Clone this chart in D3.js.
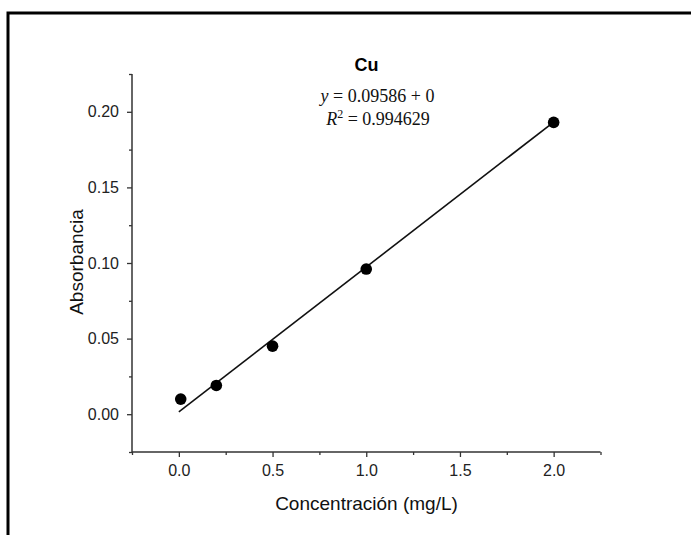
<!DOCTYPE html>
<html>
<head>
<meta charset="utf-8">
<script src="https://cdn.jsdelivr.net/npm/d3@7"></script>
<style>
html,body{margin:0;padding:0;background:#fff;}
svg{display:block;}
</style>
</head>
<body>
<svg id="chart" width="691" height="535"></svg>
<script>
const concentration = [0.01, 0.2, 0.5, 1.0, 2.0];
const absorbance = [0.010, 0.019, 0.045, 0.096, 0.193];
const fitX = [0.0, 2.0];
const fitY = [0.0015, 0.1932];
const xTicks = [0.0, 0.5, 1.0, 1.5, 2.0];
const xMinor = [-0.25, 0.25, 0.75, 1.25, 1.75, 2.25];
const yTicks = [0.00, 0.05, 0.10, 0.15, 0.20];
const yMinor = [-0.025, 0.025, 0.075, 0.125, 0.175, 0.225];
const titleText = "Cu";
const eqLine1 = "0.09586 + 0";
const eqLine2 = "0.994629";
const xLabel = "Concentración (mg/L)";
const yLabel = "Absorbancia";

const svg = d3.select("#chart");
const x = d3.scaleLinear().domain([-0.25, 2.25]).range([132, 600.5]);
const y = d3.scaleLinear().domain([-0.025, 0.225]).range([452, 74]);

// frame border (top + left)
svg.append("path").attr("d", "M8,535 L8,13 L691,13")
  .attr("fill", "none").attr("stroke", "#000").attr("stroke-width", 3);

const axisColor = "#333";
const font = "'Liberation Sans', Arial, sans-serif";

// x axis
const gx = svg.append("g").attr("transform", `translate(0,${y.range()[0]})`);
gx.call(d3.axisBottom(x).tickValues(xTicks).tickSize(5).tickPadding(8).tickFormat(d3.format(".1f")));
gx.append("g").call(d3.axisBottom(x).tickValues(xMinor).tickSize(3).tickFormat(""));
// y axis
const gy = svg.append("g").attr("transform", `translate(${x.range()[0]},0)`);
gy.call(d3.axisLeft(y).tickValues(yTicks).tickSize(5).tickPadding(8).tickFormat(d3.format(".2f")));
gy.append("g").call(d3.axisLeft(y).tickValues(yMinor).tickSize(3).tickFormat(""));

svg.selectAll(".domain").attr("stroke", axisColor).attr("stroke-width", 1.5);
svg.selectAll(".tick line").attr("stroke", axisColor).attr("stroke-width", 1.3);
svg.selectAll(".tick text").attr("fill", "#222").style("font-family", font).style("font-size", "16px");
gy.selectAll(".domain").attr("d", `M0,${y.range()[0]}V${y.range()[1]}`);
gx.selectAll(".domain").attr("d", `M${x.range()[0]},0H${x.range()[1]}`);
gx.selectAll("g > g").selectAll(".domain").remove();
gy.selectAll("g > g").selectAll(".domain").remove();

// fit line
svg.append("line")
  .attr("x1", x(fitX[0])).attr("y1", y(fitY[0]))
  .attr("x2", x(fitX[1])).attr("y2", y(fitY[1]))
  .attr("stroke", "#111").attr("stroke-width", 1.6);

// points
svg.selectAll("circle.pt").data(concentration).enter().append("circle")
  .attr("class", "pt")
  .attr("cx", d => x(d))
  .attr("cy", (d, i) => y(absorbance[i]))
  .attr("r", 5.8)
  .attr("fill", "#000");

// title
svg.append("text").attr("x", 366.5).attr("y", 71).attr("text-anchor", "middle")
  .style("font-family", font).style("font-size", "18px").style("font-weight", "bold")
  .text(titleText);

// equation
const serif = "'Liberation Serif', 'DejaVu Serif', serif";
const t1 = svg.append("text").attr("x", 377.5).attr("y", 102).attr("text-anchor", "middle")
  .style("font-family", serif).style("font-size", "18px").attr("fill", "#111");
t1.append("tspan").style("font-style", "italic").text("y");
t1.append("tspan").text(" = " + eqLine1);
const t2 = svg.append("text").attr("x", 378).attr("y", 125).attr("text-anchor", "middle")
  .style("font-family", serif).style("font-size", "18px").attr("fill", "#111");
t2.append("tspan").style("font-style", "italic").text("R");
t2.append("tspan").attr("dy", -7).style("font-size", "12px").text("2");
t2.append("tspan").attr("dy", 7).text(" = " + eqLine2);

// axis labels
svg.append("text").attr("x", 366.5).attr("y", 510).attr("text-anchor", "middle")
  .style("font-family", font).style("font-size", "19px").attr("fill", "#111")
  .text(xLabel);
svg.append("text").attr("transform", "translate(83,262) rotate(-90)").attr("text-anchor", "middle")
  .style("font-family", font).style("font-size", "19px").attr("fill", "#111")
  .text(yLabel);
</script>
</body>
</html>
